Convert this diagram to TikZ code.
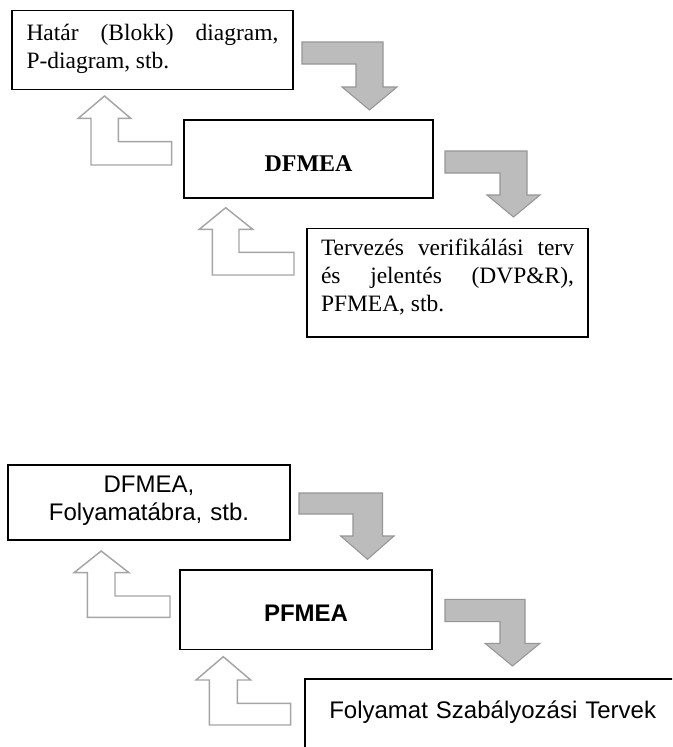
\documentclass[tikz,border=0pt]{standalone}
\usepackage{fontspec}
\setmainfont{Liberation Serif}
\newfontfamily\arialf{Liberation Sans}
\definecolor{arrfill}{RGB}{188,188,188}
\definecolor{arrline}{RGB}{150,150,150}
\definecolor{upline}{RGB}{165,165,165}
\tikzset{
  boxst/.style={draw=black, line width=1.3pt, fill=white, inner ysep=0pt},
  grayarr/.style={fill=arrfill, draw=arrline, line width=0.8pt, line join=miter},
  uparr/.style={draw=upline, line width=1.1pt, fill=white, line join=miter},
  serif/.style={font=\fontsize{17.6pt}{21.2pt}\selectfont},
  sans/.style={font=\arialf\fontsize{18pt}{21.4pt}\selectfont},
}
\begin{document}
\begin{tikzpicture}[x=0.75pt, y=-0.75pt]
\useasboundingbox (0,0) rectangle (672,747);
\clip (0,0) rectangle (672,747);
\fill[white] (0,0) rectangle (672,747);

% ---------- top section (DFMEA) ----------
\node[boxst, serif, align=justify, minimum width=210.75pt, minimum height=59.25pt,
      text width=189pt, inner xsep=10.875pt, text height=13.5pt, text depth=27.45pt]
  (hatar) at (152.5,50) {Határ (Blokk) diagram,\linebreak P-diagram, stb.};

\node[boxst, font=\bfseries\fontsize{18pt}{21.6pt}\selectfont,
      minimum width=186.75pt, minimum height=58.5pt, text height=18pt, text depth=0pt]
  (dfmea) at (308.5,159) {DFMEA};

\node[boxst, serif, align=justify, minimum width=210.75pt, minimum height=81.4pt,
      text width=189.75pt, inner xsep=10.5pt, text height=13.5pt, text depth=55.1pt]
  (dvp) at (447.5,282.75) {Tervezés verifikálási terv\linebreak és jelentés (DVP\&R),\linebreak PFMEA, stb.};

\draw[grayarr] (302,42) -- (383,42) -- (383,87) -- (397,87) -- (369.5,110) -- (342,87)
  -- (356,87) -- (356,64) -- (302,64) -- cycle;
\draw[grayarr] (445,151) -- (527,151) -- (527,195) -- (540,195) -- (513.5,217) -- (487,195)
  -- (500,195) -- (500,173) -- (445,173) -- cycle;

\draw[uparr] (171.7,141.7) -- (118.3,141.7) -- (118.3,118.3) -- (130.7,118.3) -- (104.5,96)
  -- (78.3,118.3) -- (91,118.3) -- (91,165) -- (171.7,165) -- cycle;
\draw[uparr] (294,252.3) -- (239,252.3) -- (239,229.3) -- (252.7,229.3) -- (225.7,207.7)
  -- (199.3,229.3) -- (212.3,229.3) -- (212.3,275) -- (294,275) -- cycle;

% ---------- bottom section (PFMEA) ----------
\node[boxst, sans, align=center, minimum width=211.5pt, minimum height=56.25pt,
      text width=187.5pt, inner xsep=12pt, text height=13.5pt, text depth=29.25pt]
  (folyam) at (149,502.5) {DFMEA,\\Folyamatábra, stb.};

\node[boxst, font=\arialf\bfseries\fontsize{18pt}{21.6pt}\selectfont,
      minimum width=189pt, minimum height=59.5pt, text height=18pt, text depth=0pt]
  (pfmea) at (306,609.7) {PFMEA};

\node[boxst, sans, align=left, minimum width=296.25pt, minimum height=90.75pt,
      text width=259.8pt, inner xsep=18.2pt, text height=13.5pt, text depth=45.3pt]
  (szab) at (502.5,739.5) {Folyamat Szabályozási Tervek};

\draw[grayarr] (299,493) -- (382.5,493) -- (382.5,536) -- (394,536) -- (367.5,559.3) -- (340.7,536)
  -- (353,536) -- (353,514) -- (299,514) -- cycle;
\draw[grayarr] (445,599.3) -- (525,599.3) -- (525,643.3) -- (540,643.3) -- (512.5,666) -- (485,643.3)
  -- (500,643.3) -- (500,621.7) -- (445,621.7) -- cycle;

\draw[uparr] (170,596) -- (115,596) -- (115,572.7) -- (129,572.7) -- (101.2,551)
  -- (74,572.7) -- (87.3,572.7) -- (87.3,617.3) -- (170,617.3) -- cycle;
\draw[uparr] (290.7,703.3) -- (237.3,703.3) -- (237.3,680) -- (250.7,680) -- (223.3,656.7)
  -- (196,680) -- (209.3,680) -- (209.3,725) -- (290.7,725) -- cycle;
\end{tikzpicture}
\end{document}
